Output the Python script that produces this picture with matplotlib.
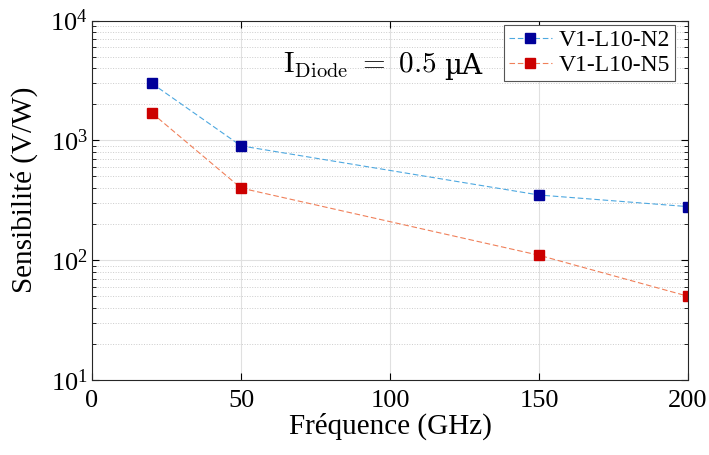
import numpy as np
import matplotlib.pyplot as plt
from matplotlib.ticker import LogLocator, NullFormatter

# ============================================================================
# DATA
# ============================================================================

freq = [20, 50, 150, 200]
sens_n2 = [3000, 900, 350, 280]
sens_n5 = [1700, 400, 110, 50]
labels = ['V1-L10-N2', 'V1-L10-N5']

plt.rcParams['font.family'] = 'Liberation Serif'
plt.rcParams['mathtext.fontset'] = 'custom'
plt.rcParams['mathtext.rm'] = 'Liberation Serif'
plt.rcParams['mathtext.it'] = 'Liberation Serif:italic'

fig = plt.figure(figsize=(7.09, 4.55), dpi=100)
ax = fig.add_axes([0.1298, 0.1648, 0.8406, 0.790])

ax.plot(freq, sens_n2, linestyle=(0, (5, 2.5)), linewidth=0.8, color='#4DA8E0',
        marker='s', markersize=7.5, markerfacecolor='#000099', markeredgecolor='#000099',
        label=labels[0])
ax.plot(freq, sens_n5, linestyle=(0, (5, 2.5)), linewidth=0.8, color='#F0805A',
        marker='s', markersize=7.5, markerfacecolor='#CC0000', markeredgecolor='#CC0000',
        label=labels[1])

ax.set_yscale('log')
ax.set_xlim(0, 200)
ax.set_ylim(10, 1e4)
ax.set_xticks([0, 50, 100, 150, 200])
ax.yaxis.set_major_locator(LogLocator(base=10, numticks=10))
ax.yaxis.set_minor_locator(LogLocator(base=10, subs=np.arange(2, 10), numticks=10))
ax.yaxis.set_minor_formatter(NullFormatter())

ax.grid(True, which='major', axis='both', color='#E0E0E0', linewidth=0.8)
ax.grid(True, which='minor', axis='y', color='#CCCCCC', linestyle=':', linewidth=0.7)
ax.set_axisbelow(True)

ax.tick_params(which='both', direction='in', top=True, right=True, labelsize=19)
ax.tick_params(which='major', length=5)
ax.tick_params(which='minor', length=3)
ax.tick_params(axis='x', pad=7)
ax.tick_params(axis='y', pad=3)
for s in ax.spines.values():
    s.set_linewidth(0.8)
    s.set_color('#262626')

ax.set_xlabel('Fréquence (GHz)', fontsize=21, labelpad=1)
ax.set_ylabel('Sensibilité (V/W)', fontsize=21)
ax.yaxis.set_label_coords(-0.09, 0.53)

# annotation: LaTeX-like part, then upright micro sign
t1 = ax.text(0.32, 0.876, r'$\mathrm{I_{Diode}}\ =\ 0.5$', transform=ax.transAxes,
             fontsize=21, ha='left', va='center', math_fontfamily='cm')
ax.annotate('µA', xy=(1, 0), xycoords=t1, xytext=(6, 0), textcoords='offset points',
            fontsize=20, ha='left', va='bottom', family='DejaVu Serif')

leg = ax.legend(loc='upper right', bbox_to_anchor=(0.978, 0.9875), fontsize=17,
                fancybox=False, framealpha=1, edgecolor='#555555', handlelength=1.8,
                borderaxespad=0, labelspacing=0.15, handletextpad=0.3, borderpad=0.2)
leg.get_frame().set_linewidth(0.8)

plt.savefig('out.png', dpi=100)
